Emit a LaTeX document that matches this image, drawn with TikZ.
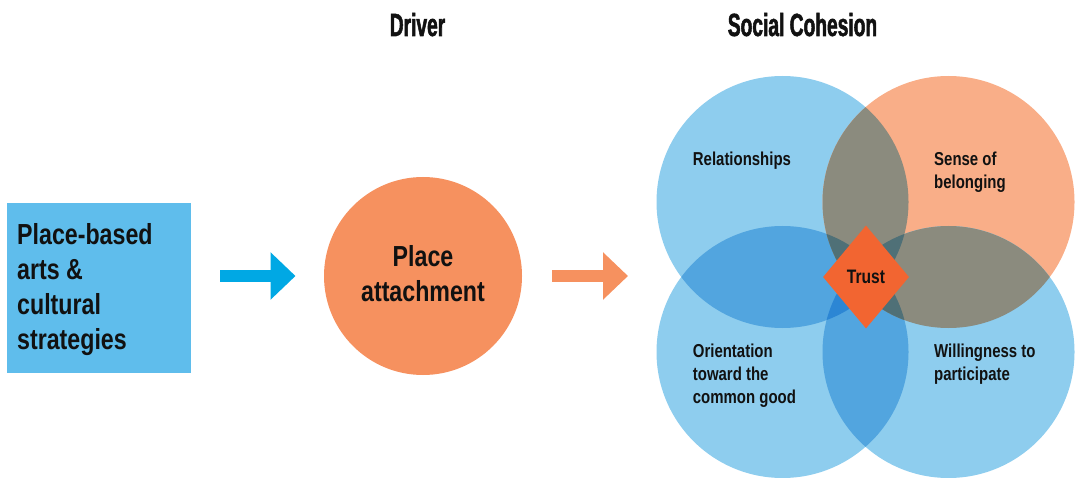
\documentclass[tikz,border=0pt]{standalone}
\usepackage{fontspec}
\usetikzlibrary{arrows.meta,shapes.geometric}
\newfontfamily\bodyf[FakeStretch=0.8]{Liberation Sans}
\newfontfamily\titlef[FakeStretch=0.6, BoldFeatures={FakeBold=1.6}]{Liberation Sans}
\definecolor{boxblue}{HTML}{5FBDEC}
\definecolor{arrblue}{HTML}{00A8E4}
\definecolor{plorange}{HTML}{F6915F}
\definecolor{lblue}{HTML}{8ECDEE}
\definecolor{lorange}{HTML}{F9AE88}
\definecolor{bbc}{HTML}{52A5DF}
\definecolor{boc}{HTML}{8B8B7E}
\definecolor{bbbc}{HTML}{2C86D4}
\definecolor{bboc}{HTML}{4F7077}
\definecolor{bbboc}{HTML}{2B5A6E}
\definecolor{trustor}{HTML}{F26531}
\definecolor{ink}{HTML}{111111}
\def\cTL{(782.5,202) circle[radius=126pt]}
\def\cTR{(948.5,202) circle[radius=126pt]}
\def\cBL{(782.5,352) circle[radius=126pt]}
\def\cBR{(948.5,352) circle[radius=126pt]}
\begin{document}
\begin{tikzpicture}[x=1pt,y=-1pt,
  title/.style={font=\titlef\bfseries\fontsize{32}{36}\selectfont, text=ink, inner sep=0, anchor=base},
  bigtext/.style={font=\bodyf\bfseries\fontsize{29}{35}\selectfont, text=ink, inner sep=0},
  venntext/.style={font=\bodyf\bfseries\fontsize{18.7}{23}\selectfont, text=ink, inner sep=0, anchor=base west, align=left},
  fatarrow/.style={line width=11.5pt, -{Triangle[length=25pt,width=46pt]}}
]
\useasboundingbox (0,0) rectangle (1078,478);
% titles
\node[title] (driver) at (417.5,36) {Driver};
\node[title] (social) at (802.5,36) {Social Cohesion};
% box
\node[fill=boxblue, minimum width=184pt, minimum height=170pt, inner sep=0, anchor=north west] (box) at (7,203) {};
\node[bigtext, anchor=base west, align=left] (boxlabel) at (17,349.5) {Place-based\\arts \&\\cultural\\strategies};
% place attachment circle
\node[circle, fill=plorange, minimum size=198pt, inner sep=0] (place) at (423,276) {};
\node[bigtext, anchor=base, align=center] (placelabel) at (423,301.7) {Place\\attachment};
% arrows
\coordinate (a1s) at (220,276);
\coordinate (a1e) at (295.5,276);
\coordinate (a2s) at (552,276);
\coordinate (a2e) at (628,276);
\draw[fatarrow, draw=arrblue, fill=arrblue] (a1s) -- (a1e);
\draw[fatarrow, draw=plorange, fill=plorange] (a2s) -- (a2e);
% venn base
\fill[lblue] \cTL;
\fill[lorange] \cTR;
\fill[lblue] \cBL;
\fill[lblue] \cBR;
% pairs
\begin{scope}\clip \cTL; \fill[bbc] \cBL; \fill[bbc] \cBR; \fill[boc] \cTR; \end{scope}
\begin{scope}\clip \cBL; \fill[bbc] \cBR; \fill[boc] \cTR; \end{scope}
\begin{scope}\clip \cBR; \fill[boc] \cTR; \end{scope}
% triples
\begin{scope}\clip \cTL; \clip \cBL; \fill[bbbc] \cBR; \fill[bboc] \cTR; \end{scope}
\begin{scope}\clip \cTL; \clip \cBR; \fill[bboc] \cTR; \end{scope}
\begin{scope}\clip \cBL; \clip \cBR; \fill[bboc] \cTR; \end{scope}
% quadruple
\begin{scope}\clip \cTL; \clip \cBL; \clip \cBR; \fill[bbboc] \cTR; \end{scope}
% venn labels
\node[venntext] (rel) at (692.7,166) {Relationships};
\node[venntext] (sense) at (934,189) {Sense of\\belonging};
\node[venntext] (orient) at (692.7,403.5) {Orientation\\toward the\\common good};
\node[venntext] (will) at (934,380.5) {Willingness to\\participate};
% trust diamond
\node[diamond, fill=trustor, minimum width=86pt, minimum height=103pt, inner sep=0,
      font=\bodyf\bfseries\fontsize{19.5}{23}\selectfont, text=ink] (trust) at (866,277) {Trust};
\end{tikzpicture}
\end{document}
